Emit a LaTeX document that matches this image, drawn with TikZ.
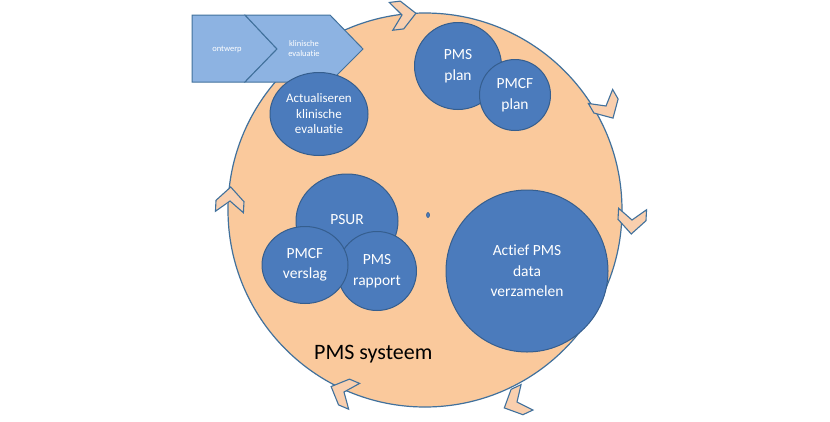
\documentclass[tikz,border=0pt]{standalone}
\usepackage{fontspec}
\setmainfont{Carlito}[Ligatures={NoCommon}]
\usetikzlibrary{shapes.geometric}
\definecolor{peach}{HTML}{FAC99C}
\definecolor{edgeblue}{HTML}{41719C}
\definecolor{circblue}{HTML}{4B7BBC}
\definecolor{circedge}{HTML}{355E8E}
\definecolor{lightblue}{HTML}{8DB3E2}
\definecolor{chevfill}{HTML}{F9CFAE}
\tikzset{
  bigc/.style={draw=edgeblue, line width=1.2pt, fill=peach},
  chevst/.style={draw=edgeblue, line width=1.1pt, fill=chevfill, line join=miter},
  pent/.style={draw=edgeblue, line width=1pt, fill=lightblue, line join=miter},
  pentxt/.style={text=white, font=\fontsize{8.5}{10}\selectfont, align=center, inner sep=0pt},
  bluec/.style={ellipse, draw=circedge, line width=1pt, fill=circblue, text=white, align=center, inner sep=0pt},
  ctxt/.style={font=\fontsize{15.5}{20.5}\selectfont},
}
\newcommand\mychev[4]{\draw[chevst, shift={(#1,#2)}, rotate=#3] (0,-14)--(14,0)--(14,11)--(0,0)--(-14,11)--(-14,0)--cycle; \coordinate (#4) at (#1,#2);}
\begin{document}
\begin{tikzpicture}[x=1pt,y=-1pt]
\useasboundingbox[fill=white] (0,0) rectangle (830,421);
% big circle
\node[circle, bigc, minimum size=394pt, inner sep=0pt] (big) at (425,210) {};
% chevrons (clockwise)
\mychev{402}{15}{-83}{ch1}
\mychev{606}{106}{-150}{ch2}
\mychev{632}{220}{-183}{ch3}
\mychev{517}{402}{-245}{ch4}
\mychev{344}{392}{-293}{ch5}
\mychev{230}{201}{-3}{ch6}
% top-left process arrows
\draw[pent] (192,15) -- (245,15) -- (277,49) -- (245,82) -- (192,82) -- cycle;
\draw[pent] (245,15) -- (330,15) -- (363,49) -- (330,82) -- (245,82) -- (277,49) -- cycle;
\node[pentxt] (ontw) at (227,49) {ontwerp};
\node[pentxt] (klin) at (304,49) {klinische\\evaluatie};
% blue circles
\node[bluec, minimum width=98pt, minimum height=83pt, font=\fontsize{13}{15.5}\selectfont] (act) at (319,114) {Actualiseren\\klinische\\evaluatie};
\node[bluec, ctxt, minimum width=87pt, minimum height=87pt] (pmsplan) at (458,66) {PMS\\plan};
\node[bluec, ctxt, minimum width=71pt, minimum height=71pt] (pmcfplan) at (515,95) {PMCF\\plan};
\node[bluec, ctxt, minimum width=102pt, minimum height=94pt] (psur) at (347,221) {\raisebox{3pt}{PSUR}};
\node[bluec, ctxt, minimum width=79pt, minimum height=79pt] (rapport) at (377,271) {PMS\\rapport};
\node[bluec, ctxt, minimum width=86pt, minimum height=77pt] (verslag) at (305,265) {PMCF\\verslag};
\node[bluec, ctxt, minimum width=162pt, minimum height=162pt] (actief) at (527,271) {Actief PMS\\data\\verzamelen};
\node[ellipse, draw=circedge, fill=circblue, line width=0.6pt, minimum width=3pt, minimum height=5pt, inner sep=0pt] (dot) at (428,215) {};
% label
\node[font=\fontsize{22}{26}\selectfont, text=black, anchor=base west, inner sep=0pt] (sys) at (314,359) {PMS systeem};
\end{tikzpicture}
\end{document}
